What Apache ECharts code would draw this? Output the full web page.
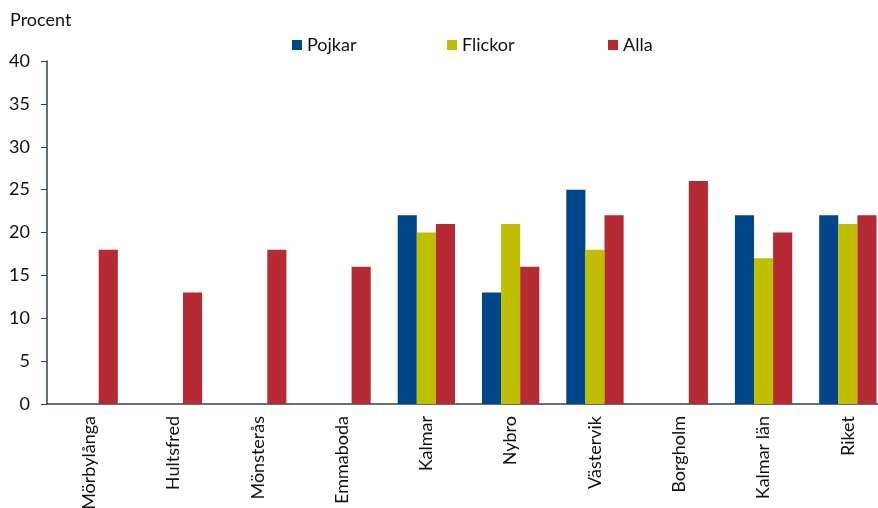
<!DOCTYPE html>
<html>
<head>
<meta charset="utf-8">
<script src="https://cdn.jsdelivr.net/npm/echarts@6/dist/echarts.min.js"></script>
<style>
  html, body { margin: 0; padding: 0; background: #fff; }
  #chart { width: 878px; height: 508px; }
</style>
</head>
<body>
<div id="chart"></div>
<script>
const kommuner = ['Mörbylånga', 'Hultsfred', 'Mönsterås', 'Emmaboda', 'Kalmar', 'Nybro', 'Västervik', 'Borgholm', 'Kalmar län', 'Riket'];
const pojkar = [null, null, null, null, 22, 13, 25, null, 22, 22];
const flickor = [null, null, null, null, 20, 21, 18, null, 17, 21];
const alla = [18, 13, 18, 16, 21, 16, 22, 26, 20, 22];
const yTicks = [0, 5, 10, 15, 20, 25, 30, 35, 40];

var chart = echarts.init(document.getElementById('chart'));
var fontName = 'Lato, "DejaVu Sans", sans-serif';
var txt = { fontSize: 18, color: '#111', fontFamily: fontName };

function mkSeries(name, data, color) {
    return {
        name: name,
        type: 'bar',
        data: data,
        barGap: '0%',
        barCategoryGap: '32%',
        itemStyle: { color: color },
        emphasis: { disabled: true }
    };
}

function mkLegend(name, left) {
    return {
        left: left,
        top: 36,
        itemWidth: 10,
        itemHeight: 10,
        icon: 'rect',
        padding: 0,
        textStyle: txt,
        data: [name]
    };
}

var option = {
    animation: false,
    textStyle: { fontFamily: fontName },
    title: {
        text: 'Procent',
        left: 10,
        top: 11,
        padding: 0,
        textStyle: { fontSize: 18, fontWeight: 'normal', color: '#111', fontFamily: fontName }
    },
    legend: [
        mkLegend('Pojkar', 292),
        mkLegend('Flickor', 447),
        mkLegend('Alla', 608)
    ],
    grid: {
        left: 47,
        top: 61,
        width: 843,
        bottom: 104,
        outerBoundsMode: 'none',
        containLabel: false
    },
    xAxis: {
        type: 'category',
        data: kommuner,
        axisLine: { lineStyle: { color: '#2f3f4f', width: 1.5 } },
        axisTick: { show: false },
        axisLabel: {
            rotate: 90,
            fontSize: 18,
            color: '#111',
            margin: 12,
            interval: 0,
            fontFamily: fontName
        }
    },
    yAxis: {
        type: 'value',
        min: yTicks[0],
        max: yTicks[yTicks.length - 1],
        interval: 5,
        splitLine: { show: false },
        axisLine: { show: true, lineStyle: { color: '#2f3f4f', width: 1.5 } },
        axisTick: { show: true, length: 6, lineStyle: { color: '#2f3f4f' } },
        axisLabel: { fontSize: 18, color: '#111', margin: 17, fontFamily: fontName }
    },
    series: [
        mkSeries('Pojkar', pojkar, '#00478a'),
        mkSeries('Flickor', flickor, '#bfbf00'),
        mkSeries('Alla', alla, '#b52a33')
    ]
};
option && chart.setOption(option);
</script>
</body>
</html>
